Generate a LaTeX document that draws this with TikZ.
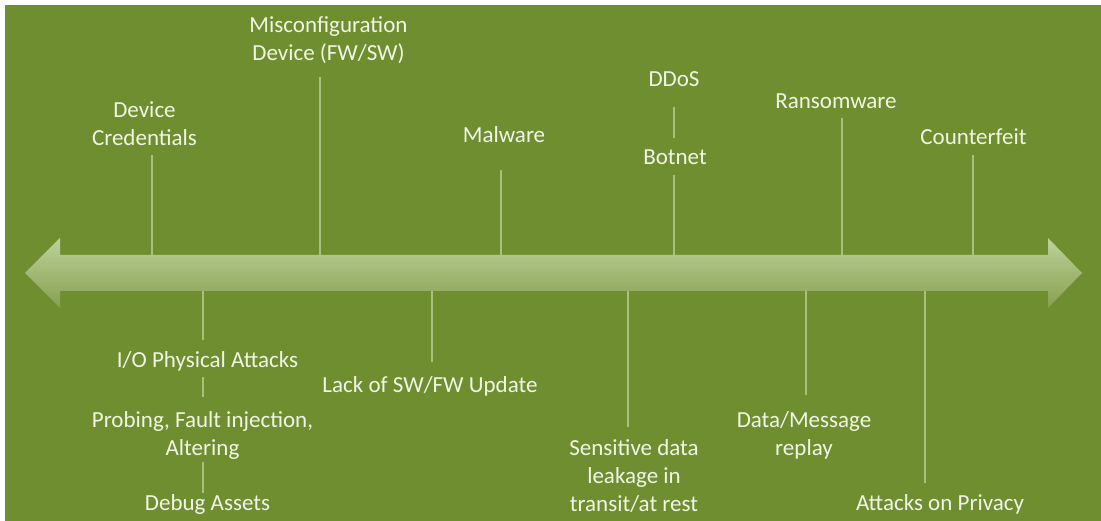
\documentclass[tikz,border=0pt]{standalone}
\usepackage{fontspec}
\setmainfont{Carlito}
\usepackage{tikz}
\usetikzlibrary{positioning}
\definecolor{bggreen}{HTML}{6F8E30}
\definecolor{labeltext}{HTML}{F1F5E6}
\definecolor{tickline}{HTML}{A9C07E}
\definecolor{axistop}{HTML}{BDD19A}
\definecolor{axismid}{HTML}{A0B872}
\definecolor{axisbot}{HTML}{86A050}
\tikzset{
  threat/.style={font=\fontsize{23}{28}\selectfont, text=labeltext,
                 align=center, inner sep=0pt, anchor=base},
  tickln/.style={draw=tickline, line width=1.5pt},
  axisarrow/.style={top color=axistop, middle color=axismid, bottom color=axisbot},
}

\begin{document}
\begin{tikzpicture}[x=1pt, y=-1pt]

  \useasboundingbox[fill=white] (0,0) rectangle (1101,521);
  \fill[bggreen] (5,5) rectangle (1101,521);

  %% ── Threats above the timeline ──────────────────────────────────────────
  % (base = baseline of the last line)

  \node[threat] (cred) at (144.5,146) {Device\\Credentials};
  \node[threat] (misc) at (328.5,61)  {Misconfiguration\\Device (FW/SW)};
  \node[threat] (malw) at (504,143)   {Malware};
  \node[threat] (ddos) at (674,87)    {DDoS};
  \node[threat] (botn) at (675,165)   {Botnet};
  \node[threat] (rans) at (836,109)   {Ransomware};
  \node[threat] (cntf) at (973.5,145) {Counterfeit};

  \coordinate (credA) at (152,258);  \coordinate (credB) at (152,155);
  \coordinate (miscA) at (320,258);  \coordinate (miscB) at (320,77);
  \coordinate (malwA) at (501,258);  \coordinate (malwB) at (501,170);
  \coordinate (botnA) at (674,258);  \coordinate (botnB) at (674,175);
  \coordinate (ddosA) at (674,138);  \coordinate (ddosB) at (674,107);
  \coordinate (ransA) at (842,258);  \coordinate (ransB) at (842,118);
  \coordinate (cntfA) at (973,258);  \coordinate (cntfB) at (973,155);

  \draw[tickln] (credA) -- (credB);
  \draw[tickln] (miscA) -- (miscB);
  \draw[tickln] (malwA) -- (malwB);
  \draw[tickln] (botnA) -- (botnB);
  \draw[tickln] (ddosA) -- (ddosB);
  \draw[tickln] (ransA) -- (ransB);
  \draw[tickln] (cntfA) -- (cntfB);

  %% ── Threats below the timeline ──────────────────────────────────────────

  \node[threat] (iophy)  at (207.5,367) {I/O Physical Attacks};
  \node[threat] (probe)  at (202.5,455) {Probing, Fault injection,\\Altering};
  \node[threat] (debug)  at (207.5,510) {Debug Assets};
  \node[threat] (lack)   at (430,392)   {Lack of SW/FW Update};
  \node[threat] (sens)   at (634,511)   {Sensitive data\\leakage in\\transit/at rest};
  \node[threat] (replay) at (804,455)   {Data/Message\\replay};
  \node[threat] (priv)   at (940,510)   {Attacks on Privacy};

  \coordinate (iophyA)  at (203,288);  \coordinate (iophyB)  at (203,340);
  \coordinate (probeA)  at (203,377);  \coordinate (probeB)  at (203,397);
  \coordinate (debugA)  at (203,462);  \coordinate (debugB)  at (203,493);
  \coordinate (lackA)   at (432,288);  \coordinate (lackB)   at (432,362);
  \coordinate (sensA)   at (628,288);  \coordinate (sensB)   at (628,427);
  \coordinate (replayA) at (806,288);  \coordinate (replayB) at (806,395);
  \coordinate (privA)   at (925,288);  \coordinate (privB)   at (925,483);

  \draw[tickln] (iophyA) -- (iophyB);
  \draw[tickln] (probeA) -- (probeB);
  \draw[tickln] (debugA) -- (debugB);
  \draw[tickln] (lackA) -- (lackB);
  \draw[tickln] (sensA) -- (sensB);
  \draw[tickln] (replayA) -- (replayB);
  \draw[tickln] (privA) -- (privB);

  %% ── Timeline (double arrow) ─────────────────────────────────────────────

  \shade[axisarrow]
    (25,273) -- (60,238) -- (60,255) -- (1048,255) -- (1048,238) -- (1082,273)
    -- (1048,308) -- (1048,291) -- (60,291) -- (60,308) -- cycle;

\end{tikzpicture}
\end{document}
